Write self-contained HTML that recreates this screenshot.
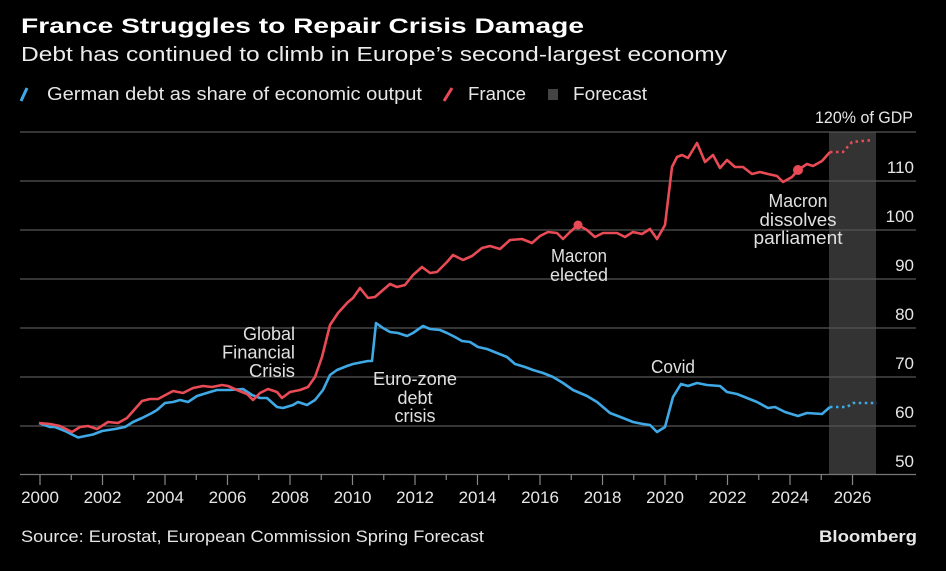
<!DOCTYPE html>
<html><head><meta charset="utf-8"><style>
html,body{margin:0;padding:0;background:#000;}
svg{display:block;}
text{font-family:"Liberation Sans",sans-serif;}
</style></head><body>
<svg width="946" height="571" viewBox="0 0 946 571" xmlns="http://www.w3.org/2000/svg">
<rect width="946" height="571" fill="#000"/>
<text x="21" y="33" font-size="21" font-weight="bold" fill="#fff" textLength="563" lengthAdjust="spacingAndGlyphs">France Struggles to Repair Crisis Damage</text>
<text x="21" y="61" font-size="20" fill="#ececec" textLength="706" lengthAdjust="spacingAndGlyphs">Debt has continued to climb in Europe’s second-largest economy</text>
<line x1="21" y1="101" x2="27" y2="88" stroke="#3fa9e6" stroke-width="3"/>
<text x="47" y="100" font-size="18" fill="#e6e6e6" textLength="375" lengthAdjust="spacingAndGlyphs">German debt as share of economic output</text>
<line x1="444" y1="101" x2="452" y2="88" stroke="#e84b55" stroke-width="3"/>
<text x="468" y="100" font-size="18" fill="#e6e6e6" textLength="58" lengthAdjust="spacingAndGlyphs">France</text>
<rect x="548" y="89" width="10" height="11" fill="#444"/>
<text x="573" y="100" font-size="18" fill="#e6e6e6" textLength="74" lengthAdjust="spacingAndGlyphs">Forecast</text>
<text x="913" y="123" font-size="17" fill="#e6e6e6" text-anchor="end" textLength="98" lengthAdjust="spacingAndGlyphs">120% of GDP</text>
<rect x="829" y="132" width="47" height="342.5" fill="#333"/>
<g stroke="#555" stroke-width="1.2">
<line x1="20" y1="132" x2="916" y2="132"/>
<line x1="20" y1="181" x2="916" y2="181"/>
<line x1="20" y1="230" x2="916" y2="230"/>
<line x1="20" y1="279" x2="916" y2="279"/>
<line x1="20" y1="328" x2="916" y2="328"/>
<line x1="20" y1="377" x2="916" y2="377"/>
<line x1="20" y1="426" x2="916" y2="426"/>
</g>
<line x1="20" y1="474.5" x2="916" y2="474.5" stroke="#777" stroke-width="1.3"/>
<g font-size="17" fill="#e6e6e6" text-anchor="end">
<text x="914" y="173">110</text>
<text x="914" y="222">100</text>
<text x="914" y="271">90</text>
<text x="914" y="320">80</text>
<text x="914" y="369">70</text>
<text x="914" y="418">60</text>
<text x="914" y="467">50</text>
</g>
<g stroke="#888" stroke-width="1.2">
<line x1="40" y1="475" x2="40" y2="485"/><line x1="71.25" y1="475" x2="71.25" y2="480"/>
<line x1="102.5" y1="475" x2="102.5" y2="485"/><line x1="133.75" y1="475" x2="133.75" y2="480"/>
<line x1="165" y1="475" x2="165" y2="485"/><line x1="196.25" y1="475" x2="196.25" y2="480"/>
<line x1="227.5" y1="475" x2="227.5" y2="485"/><line x1="258.75" y1="475" x2="258.75" y2="480"/>
<line x1="290" y1="475" x2="290" y2="485"/><line x1="321.25" y1="475" x2="321.25" y2="480"/>
<line x1="352.5" y1="475" x2="352.5" y2="485"/><line x1="383.75" y1="475" x2="383.75" y2="480"/>
<line x1="415" y1="475" x2="415" y2="485"/><line x1="446.25" y1="475" x2="446.25" y2="480"/>
<line x1="477.5" y1="475" x2="477.5" y2="485"/><line x1="508.75" y1="475" x2="508.75" y2="480"/>
<line x1="540" y1="475" x2="540" y2="485"/><line x1="571.25" y1="475" x2="571.25" y2="480"/>
<line x1="602.5" y1="475" x2="602.5" y2="485"/><line x1="633.75" y1="475" x2="633.75" y2="480"/>
<line x1="665" y1="475" x2="665" y2="485"/><line x1="696.25" y1="475" x2="696.25" y2="480"/>
<line x1="727.5" y1="475" x2="727.5" y2="485"/><line x1="758.75" y1="475" x2="758.75" y2="480"/>
<line x1="790" y1="475" x2="790" y2="485"/><line x1="821.25" y1="475" x2="821.25" y2="480"/>
<line x1="852.5" y1="475" x2="852.5" y2="485"/>
</g>
<g font-size="17" fill="#e6e6e6" text-anchor="middle">
<text x="40" y="503">2000</text><text x="102.5" y="503">2002</text><text x="165" y="503">2004</text>
<text x="227.5" y="503">2006</text><text x="290" y="503">2008</text><text x="352.5" y="503">2010</text>
<text x="415" y="503">2012</text><text x="477.5" y="503">2014</text><text x="540" y="503">2016</text>
<text x="602.5" y="503">2018</text><text x="665" y="503">2020</text><text x="727.5" y="503">2022</text>
<text x="790" y="503">2024</text><text x="852.5" y="503">2026</text>
</g>
<polyline fill="none" stroke="#3fa9e6" stroke-width="2.6" stroke-linejoin="round" points="39,423 50,427 55,427 65,431 78,437.5 93,434.5 102,431 115,429 125,427 133,422 142,418 152,413 157,410 165,403 173,402 180,400 188,402 197,396 210,392 217,390 230,390 243,389 252,395 260,398 267,398 277,407 283,408 293,405 298,402 307,405 315,400 323,390 330,375 337,370 347,366 353,364 363,362 368,361 372,361 376,323 383,328 390,332 398,333 407,336 413,333 423,326 430,329 440,330 447,333 455,337 462,341 470,342 478,347 487,349 497,353 507,357 515,364 525,367 533,370 543,373 553,377 563,383 573,390 587,396 597,402 610,413 623,418 633,422 643,424 650,425 657,432 665,427 673,397 681,384 688,386 697,383 707,385 720,386 727,392 737,394 747,398 757,402 768,408 775,407 785,412 798,416 807,413 822,414 830,407"/>
<polyline fill="none" stroke="#3fa9e6" stroke-width="2.6" stroke-dasharray="2.5,3.5" points="830,407 840,407 847,407 853,403 877,403"/>
<polyline fill="none" stroke="#e84b55" stroke-width="2.6" stroke-linejoin="round" points="39,423 50,424 60,426 72,432 80,427 88,426 97,429 108,422 118,423 127,418 142,401 150,399 158,399 173,391 183,393 193,388 203,386 212,387 222,385 228,386 237,390 247,394 253,400 260,393 268,389 277,392 282,398 290,392 300,390 308,387 315,377 322,357 330,325 338,313 348,302 353,298 360,288 368,298 375,297 383,290 390,284 397,287 405,285 413,275 422,267 430,273 437,272 447,262 453,255 463,260 472,256 482,248 490,246 500,249 510,240 522,239 532,243 540,236 548,232 557,233 563,239 570,232 578,225 587,230 595,237 603,233 617,233 625,237 633,232 642,234 650,229 657,239 665,225 672,167 677,157 682,155 688,158 697,143 705,162 713,155 720,168 727,160 735,167 743,167 752,174 760,172 768,174 777,176 783,182 792,177 798,170 807,164 813,166 822,161 830,152"/>
<polyline fill="none" stroke="#e84b55" stroke-width="2.6" stroke-dasharray="2.5,3.5" points="830,152 843,152 852,142 873,140"/>
<circle cx="578" cy="225" r="4.5" fill="#e84b55"/>
<circle cx="798" cy="170" r="5" fill="#e84b55"/>
<g font-size="18" fill="#e0e0e0">
<text x="295" y="340" text-anchor="end" textLength="52" lengthAdjust="spacingAndGlyphs">Global</text>
<text x="295" y="358.5" text-anchor="end" textLength="73" lengthAdjust="spacingAndGlyphs">Financial</text>
<text x="295" y="377" text-anchor="end" textLength="46" lengthAdjust="spacingAndGlyphs">Crisis</text>
<text x="415" y="385" text-anchor="middle" textLength="84" lengthAdjust="spacingAndGlyphs">Euro-zone</text>
<text x="415" y="404" text-anchor="middle">debt</text>
<text x="415" y="422" text-anchor="middle">crisis</text>
<text x="579" y="262" text-anchor="middle" textLength="56" lengthAdjust="spacingAndGlyphs">Macron</text>
<text x="579" y="281" text-anchor="middle" textLength="58" lengthAdjust="spacingAndGlyphs">elected</text>
<text x="673" y="373" text-anchor="middle" textLength="44" lengthAdjust="spacingAndGlyphs">Covid</text>
<text x="798" y="207" text-anchor="middle" textLength="59" lengthAdjust="spacingAndGlyphs">Macron</text>
<text x="798" y="226" text-anchor="middle" textLength="77" lengthAdjust="spacingAndGlyphs">dissolves</text>
<text x="798" y="244" text-anchor="middle" textLength="89" lengthAdjust="spacingAndGlyphs">parliament</text>
</g>
<text x="21" y="542" font-size="17" fill="#e6e6e6" textLength="463" lengthAdjust="spacingAndGlyphs">Source: Eurostat, European Commission Spring Forecast</text>
<text x="917" y="542" font-size="17" font-weight="bold" fill="#e6e6e6" text-anchor="end" textLength="98" lengthAdjust="spacingAndGlyphs">Bloomberg</text>
</svg>
</body></html>
